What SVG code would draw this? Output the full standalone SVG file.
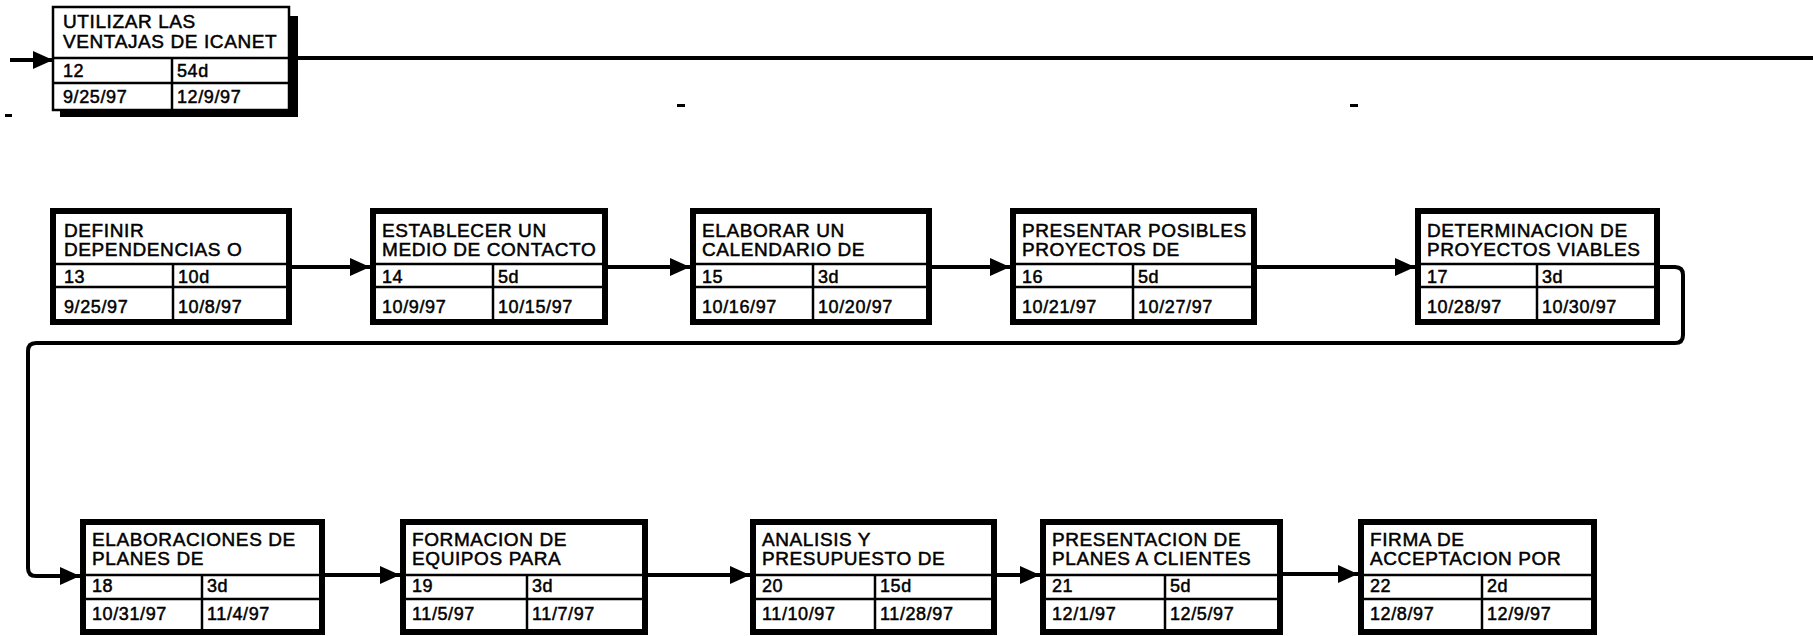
<svg xmlns="http://www.w3.org/2000/svg" width="1813" height="636" viewBox="0 0 1813 636">
<style>
.box{fill:#fff;stroke:#000;stroke-width:6}
.ln{stroke:#000;stroke-width:2.5;fill:none}
.t{font-family:"Liberation Sans",Arial,sans-serif;font-size:19px;letter-spacing:0.6px;fill:#000;stroke:#000;stroke-width:0.5}
.d{font-family:"Liberation Sans",Arial,sans-serif;font-size:18px;letter-spacing:0.6px;fill:#000;stroke:#000;stroke-width:0.5}
.c{stroke:#000;stroke-width:4;fill:none}
</style>
<defs>
<marker id="ah" markerUnits="userSpaceOnUse" markerWidth="20" markerHeight="18" refX="20" refY="9" orient="auto">
<path d="M0,0 L20,9 L0,18 z" fill="#000"/>
</marker>
</defs>
<rect width="1813" height="636" fill="#fff"/>
<g id="connectors">
<line class="c" x1="10" y1="60" x2="53" y2="60" marker-end="url(#ah)"/>
<line class="c" x1="298" y1="58" x2="1813" y2="58"/>
<line class="c" x1="292" y1="267" x2="370" y2="267" marker-end="url(#ah)"/>
<line class="c" x1="608" y1="267" x2="690" y2="267" marker-end="url(#ah)"/>
<line class="c" x1="932" y1="267" x2="1010" y2="267" marker-end="url(#ah)"/>
<line class="c" x1="1257" y1="267" x2="1415" y2="267" marker-end="url(#ah)"/>
<path class="c" d="M1660,267 H1675 Q1683,267 1683,275 V335 Q1683,343 1675,343 H36 Q28,343 28,351 V568 Q28,576 36,576 H80" marker-end="url(#ah)"/>
<line class="c" x1="325" y1="575" x2="400" y2="575" marker-end="url(#ah)"/>
<line class="c" x1="648" y1="575" x2="750" y2="575" marker-end="url(#ah)"/>
<line class="c" x1="997" y1="575" x2="1040" y2="575" marker-end="url(#ah)"/>
<line class="c" x1="1283" y1="574" x2="1358" y2="574" marker-end="url(#ah)"/>
</g>
<g id="marks" fill="#000">
<rect x="5" y="114" width="7" height="3"/>
<rect x="677" y="104" width="8" height="3"/>
<rect x="1350" y="104" width="8" height="3"/>
</g>
<g id="n12">
<rect x="289" y="16" width="9" height="101" fill="#000"/>
<rect x="60" y="109" width="238" height="8" fill="#000"/>
<rect x="53" y="7" width="236" height="103" fill="#fff" stroke="#000" stroke-width="2.5"/>
<line class="ln" x1="53" y1="58" x2="289" y2="58"/>
<line class="ln" x1="53" y1="83" x2="289" y2="83"/>
<line class="ln" x1="172" y1="58" x2="172" y2="110"/>
<text class="t" x="63" y="28">UTILIZAR LAS</text>
<text class="t" x="63" y="48">VENTAJAS DE ICANET</text>
<text class="d" x="63" y="77">12</text>
<text class="d" x="177" y="77">54d</text>
<text class="d" x="63" y="103">9/25/97</text>
<text class="d" x="177" y="103">12/9/97</text>
</g>
<g id="n13" transform="translate(50,208)">
<rect class="box" x="3" y="3" width="236" height="111"/>
<line class="ln" x1="3" y1="56" x2="239" y2="56"/>
<line class="ln" x1="3" y1="79" x2="239" y2="79"/>
<line class="ln" x1="123" y1="56" x2="123" y2="114"/>
<text class="t" x="14" y="29">DEFINIR</text>
<text class="t" x="14" y="48">DEPENDENCIAS O</text>
<text class="d" x="14" y="75">13</text>
<text class="d" x="128" y="75">10d</text>
<text class="d" x="14" y="105">9/25/97</text>
<text class="d" x="128" y="105">10/8/97</text>
</g>
<g id="n14" transform="translate(370,208)">
<rect class="box" x="3" y="3" width="232" height="111"/>
<line class="ln" x1="3" y1="56" x2="235" y2="56"/>
<line class="ln" x1="3" y1="79" x2="235" y2="79"/>
<line class="ln" x1="123" y1="56" x2="123" y2="114"/>
<text class="t" x="12" y="29">ESTABLECER UN</text>
<text class="t" x="12" y="48">MEDIO DE CONTACTO</text>
<text class="d" x="12" y="75">14</text>
<text class="d" x="128" y="75">5d</text>
<text class="d" x="12" y="105">10/9/97</text>
<text class="d" x="128" y="105">10/15/97</text>
</g>
<g id="n15" transform="translate(690,208)">
<rect class="box" x="3" y="3" width="236" height="111"/>
<line class="ln" x1="3" y1="56" x2="239" y2="56"/>
<line class="ln" x1="3" y1="79" x2="239" y2="79"/>
<line class="ln" x1="123" y1="56" x2="123" y2="114"/>
<text class="t" x="12" y="29">ELABORAR UN</text>
<text class="t" x="12" y="48">CALENDARIO DE</text>
<text class="d" x="12" y="75">15</text>
<text class="d" x="128" y="75">3d</text>
<text class="d" x="12" y="105">10/16/97</text>
<text class="d" x="128" y="105">10/20/97</text>
</g>
<g id="n16" transform="translate(1010,208)">
<rect class="box" x="3" y="3" width="241" height="111"/>
<line class="ln" x1="3" y1="56" x2="244" y2="56"/>
<line class="ln" x1="3" y1="79" x2="244" y2="79"/>
<line class="ln" x1="123" y1="56" x2="123" y2="114"/>
<text class="t" x="12" y="29">PRESENTAR POSIBLES</text>
<text class="t" x="12" y="48">PROYECTOS DE</text>
<text class="d" x="12" y="75">16</text>
<text class="d" x="128" y="75">5d</text>
<text class="d" x="12" y="105">10/21/97</text>
<text class="d" x="128" y="105">10/27/97</text>
</g>
<g id="n17" transform="translate(1415,208)">
<rect class="box" x="3" y="3" width="239" height="111"/>
<line class="ln" x1="3" y1="56" x2="242" y2="56"/>
<line class="ln" x1="3" y1="79" x2="242" y2="79"/>
<line class="ln" x1="122" y1="56" x2="122" y2="114"/>
<text class="t" x="12" y="29">DETERMINACION DE</text>
<text class="t" x="12" y="48">PROYECTOS VIABLES</text>
<text class="d" x="12" y="75">17</text>
<text class="d" x="127" y="75">3d</text>
<text class="d" x="12" y="105">10/28/97</text>
<text class="d" x="127" y="105">10/30/97</text>
</g>
<g id="n18" transform="translate(80,519)">
<rect class="box" x="3" y="3" width="239" height="110"/>
<line class="ln" x1="3" y1="56" x2="242" y2="56"/>
<line class="ln" x1="3" y1="80" x2="242" y2="80"/>
<line class="ln" x1="122" y1="56" x2="122" y2="113"/>
<text class="t" x="12" y="27">ELABORACIONES DE</text>
<text class="t" x="12" y="46">PLANES DE</text>
<text class="d" x="12" y="73">18</text>
<text class="d" x="127" y="73">3d</text>
<text class="d" x="12" y="101">10/31/97</text>
<text class="d" x="127" y="101">11/4/97</text>
</g>
<g id="n19" transform="translate(400,519)">
<rect class="box" x="3" y="3" width="242" height="110"/>
<line class="ln" x1="3" y1="56" x2="245" y2="56"/>
<line class="ln" x1="3" y1="80" x2="245" y2="80"/>
<line class="ln" x1="127" y1="56" x2="127" y2="113"/>
<text class="t" x="12" y="27">FORMACION DE</text>
<text class="t" x="12" y="46">EQUIPOS PARA</text>
<text class="d" x="12" y="73">19</text>
<text class="d" x="132" y="73">3d</text>
<text class="d" x="12" y="101">11/5/97</text>
<text class="d" x="132" y="101">11/7/97</text>
</g>
<g id="n20" transform="translate(750,519)">
<rect class="box" x="3" y="3" width="241" height="110"/>
<line class="ln" x1="3" y1="56" x2="244" y2="56"/>
<line class="ln" x1="3" y1="80" x2="244" y2="80"/>
<line class="ln" x1="125" y1="56" x2="125" y2="113"/>
<text class="t" x="12" y="27">ANALISIS Y</text>
<text class="t" x="12" y="46">PRESUPUESTO DE</text>
<text class="d" x="12" y="73">20</text>
<text class="d" x="130" y="73">15d</text>
<text class="d" x="12" y="101">11/10/97</text>
<text class="d" x="130" y="101">11/28/97</text>
</g>
<g id="n21" transform="translate(1040,519)">
<rect class="box" x="3" y="3" width="237" height="110"/>
<line class="ln" x1="3" y1="56" x2="240" y2="56"/>
<line class="ln" x1="3" y1="80" x2="240" y2="80"/>
<line class="ln" x1="125" y1="56" x2="125" y2="113"/>
<text class="t" x="12" y="27">PRESENTACION DE</text>
<text class="t" x="12" y="46">PLANES A CLIENTES</text>
<text class="d" x="12" y="73">21</text>
<text class="d" x="130" y="73">5d</text>
<text class="d" x="12" y="101">12/1/97</text>
<text class="d" x="130" y="101">12/5/97</text>
</g>
<g id="n22" transform="translate(1358,519)">
<rect class="box" x="3" y="3" width="233" height="110"/>
<line class="ln" x1="3" y1="56" x2="236" y2="56"/>
<line class="ln" x1="3" y1="80" x2="236" y2="80"/>
<line class="ln" x1="124" y1="56" x2="124" y2="113"/>
<text class="t" x="12" y="27">FIRMA DE</text>
<text class="t" x="12" y="46">ACCEPTACION POR</text>
<text class="d" x="12" y="73">22</text>
<text class="d" x="129" y="73">2d</text>
<text class="d" x="12" y="101">12/8/97</text>
<text class="d" x="129" y="101">12/9/97</text>
</g>
</svg>
